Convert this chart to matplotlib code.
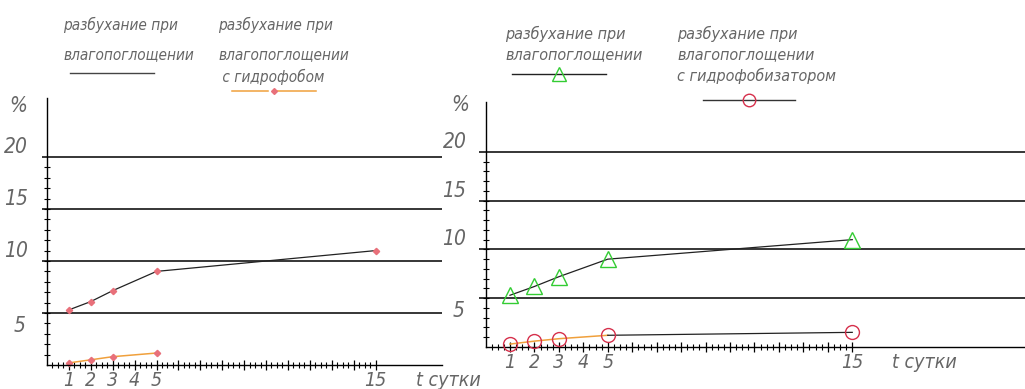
import matplotlib
matplotlib.use("Agg")
import matplotlib.pyplot as plt
from matplotlib.lines import Line2D

# ---- data -------------------------------------------------------------
days = [1, 2, 3, 5, 15]
days_short = [1, 2, 3, 5]

left_plain = [5.3, 6.1, 7.15, 9.0, 11.0]      # swelling on moisture uptake
left_hydro = [0.2, 0.5, 0.8, 1.15]            # swelling with water repellent

right_plain = [5.3, 6.2, 7.2, 9.0, 11.0]
right_hydro = [0.3, 0.6, 0.85, 1.2, 1.5]

grid_levels = [5, 10, 15, 20]
y_labels = ["5", "10", "15", "20"]
x_label_days = [1, 2, 3, 4, 5, 15]
x_axis_title = "t сутки"
y_axis_title = "%"

legend_plain = ["разбухание при", "влагопоглощении"]
legend_hydro_left = ["разбухание при", "влагопоглощении", " с гидрофобом"]
legend_hydro_right = ["разбухание при", "влагопоглощении", "с гидрофобизатором"]

# ---- styling ----------------------------------------------------------
W, H = 1025, 389
TXT = "#666666"
ORANGE = "#f0a03c"
PINK = "#e8707a"
GREEN = "#33cc33"
RED = "#d6304c"

plt.rcParams["font.family"] = ["DejaVu Sans"]
plt.rcParams["font.stretch"] = "condensed"
plt.rcParams["font.style"] = "italic"

fig = plt.figure(figsize=(W / 100, H / 100), dpi=100)


def fx(x):
    return x / W


def fy(y):
    return 1 - y / H


def make_axes(rect, xmax, ymax, pct_offset):
    ax = fig.add_axes(rect)
    ax.set_xlim(0, xmax)
    ax.set_ylim(0, ymax)
    for s in ("top", "right"):
        ax.spines[s].set_visible(False)
    for s in ("left", "bottom"):
        ax.spines[s].set_linewidth(1.0)
        ax.spines[s].set_color("black")
    ax.set_xticks(range(1, 16))
    ax.set_xticks([d + q / 4 for d in range(0, 15) for q in (1, 2, 3)], minor=True)
    ax.set_yticks(range(1, 20))
    ax.tick_params(axis="x", which="major", direction="inout", length=7, width=0.9,
                   labelbottom=False)
    ax.tick_params(axis="x", which="minor", direction="inout", length=4, width=0.8)
    ax.tick_params(axis="y", which="major", direction="inout", length=5, width=0.8,
                   labelleft=False)
    ax.hlines(grid_levels, -0.25, xmax, color="black", lw=1.1, clip_on=False)
    ax.patch.set_alpha(0)

    for lvl, lab in zip(grid_levels, y_labels):
        if lvl == 5:
            ax.annotate(lab, xy=(0, lvl), xytext=(-21, -3), textcoords="offset pixels",
                        ha="right", va="top", fontsize=15, color=TXT,
                        annotation_clip=False)
        else:
            ax.annotate(lab, xy=(0, lvl), xytext=(-19, 0), textcoords="offset pixels",
                        ha="right", va="bottom", fontsize=15, color=TXT,
                        annotation_clip=False)
    ax.annotate(y_axis_title, xy=(0, ymax), xytext=pct_offset, textcoords="offset pixels",
                ha="center", va="center", fontsize=15, color=TXT,
                annotation_clip=False)
    for d in x_label_days:
        ax.annotate(str(d), xy=(d, 0), xytext=(0, -6), textcoords="offset pixels",
                    ha="center", va="top", fontsize=14, color=TXT,
                    annotation_clip=False)
    ax.annotate(x_axis_title, xy=(15, 0), xytext=(40, -6), textcoords="offset pixels",
                ha="left", va="top", fontsize=14, color=TXT,
                annotation_clip=False)
    return ax


# ---- left panel ---------------------------------------------------------
axL = make_axes([fx(47), 24 / H, 395 / W, 267 / H], 395 / 21.9, 267 / 10.4, (-29, -8))
axL.plot(days, left_plain, color="#222222", lw=0.9, marker="D", ms=3.2,
         mfc=PINK, mec=PINK, clip_on=False)
axL.plot(days_short, left_hydro, color=ORANGE, lw=1.1, marker="D", ms=3.2,
         mfc=PINK, mec=PINK, clip_on=False)

# ---- right panel --------------------------------------------------------
axR = make_axes([fx(485.5), 42 / H, 539.5 / W, 245 / H], 539.5 / 24.45, 245 / 9.76,
                (-25, -3))
axR.plot(days, right_plain, color="#222222", lw=0.9, zorder=2, clip_on=False)
axR.plot(days_short, right_hydro[:4], color=ORANGE, lw=1.1, zorder=2, clip_on=False)
axR.plot(days[3:], right_hydro[3:], color="#222222", lw=0.9, zorder=2, clip_on=False)
axR.plot(days, right_plain, ls="none", marker="^", ms=11, mfc="none", mec=GREEN,
         mew=1.0, zorder=3, clip_on=False)
axR.plot(days, right_hydro, ls="none", marker="o", ms=10, mfc="none", mec=RED,
         mew=1.0, zorder=3, clip_on=False)

# ---- legend notes -------------------------------------------------------
def note(lines, x, ys, size=11):
    for line, y in zip(lines, ys):
        fig.text(fx(x), fy(y), line, ha="left", va="center", fontsize=size, color=TXT)


def sample(x0, x1, y, color, marker=None, mcolor=None, ms=10, gap=None):
    if gap:
        for a, b in ((x0, gap[0]), (gap[1], x1)):
            fig.add_artist(Line2D([fx(a), fx(b)], [fy(y), fy(y)], color=color, lw=1.1,
                                  transform=fig.transFigure))
    else:
        fig.add_artist(Line2D([fx(x0), fx(x1)], [fy(y), fy(y)], color=color, lw=1.0,
                              transform=fig.transFigure))
    if marker:
        xm = (x0 + x1) / 2
        fig.add_artist(Line2D([fx(xm)], [fy(y)], ls="none", marker=marker, ms=ms,
                              mfc="none" if marker in "^o" else mcolor, mec=mcolor,
                              mew=1.0, transform=fig.transFigure))


note(legend_plain, 63, [25, 55])
sample(70, 154, 73, "#444444")

note(legend_hydro_left, 218, [25, 55, 77])
sample(232, 316, 91, ORANGE, marker="D", mcolor=PINK, ms=3, gap=(268, 277))

note(legend_plain, 505, [34, 55], size=11.5)
sample(512, 606, 74, "#222222", marker="^", mcolor=GREEN, ms=10)

note(legend_hydro_right, 677, [34, 55, 76], size=11.5)
sample(703, 795, 100, "#333333", marker="o", mcolor=RED, ms=9)

fig.savefig("out.png", dpi=100)
